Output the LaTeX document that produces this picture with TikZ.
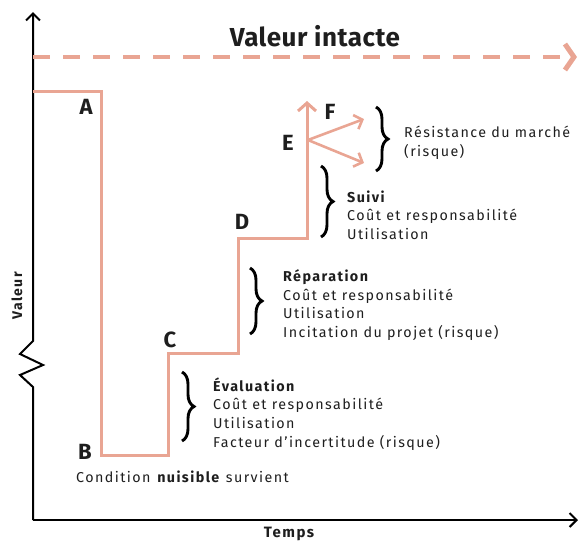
\documentclass[tikz,border=0pt]{standalone}
\usepackage{fontspec}
\setmainfont[LetterSpace=10]{Fira Sans}
\newfontfamily\titlefont[LetterSpace=2]{Fira Sans}
\usetikzlibrary{arrows.meta,decorations.pathreplacing}
\definecolor{salmon}{HTML}{E9A593}
\definecolor{ink}{HTML}{1E1E1E}
\tikzset{
  axisline/.style={line width=2pt,draw=black},
  stepline/.style={line width=3pt,draw=salmon,line join=miter},
  dashline/.style={line width=4pt,draw=salmon,dash pattern=on 17pt off 13pt},
  bracestyle/.style={decorate,decoration={brace,amplitude=12pt},line width=2.9pt,draw=black},
  letter/.style={font=\fontsize{22}{22}\selectfont\bfseries,text=ink,inner sep=0pt},
  info/.style={font=\fontsize{14.3}{18.7}\selectfont,text=ink,align=left,anchor=west,inner sep=0pt},
}
\begin{document}
\begin{tikzpicture}[x=1pt,y=-1pt]
\useasboundingbox (0,0) rectangle (579,542);
% axes
\coordinate (o) at (33,520);
\coordinate (ytop) at (33,12);
\coordinate (xend) at (578,520);
\coordinate (z0) at (33,387);
\coordinate (z1) at (20,375);
\coordinate (z2) at (43,365);
\coordinate (z3) at (20,354);
\coordinate (z4) at (33,341);
\draw[axisline,-{Straight Barb[length=7pt,width=14pt,line width=2pt]}] (o) -- (z0) -- (z1) -- (z2) -- (z3) -- (z4) -- (ytop);
\draw[axisline,-{Straight Barb[length=7pt,width=14pt,line width=2pt]}] (o) -- (xend);
% dashed intact value line
\coordinate (d0) at (33,57);
\coordinate (d1) at (577,57);
\draw[dashline,-{Straight Barb[length=9pt,width=26pt,line width=5pt]}] (d0) -- (d1);
% step line
\coordinate (s0) at (33,91);
\coordinate (pA) at (101,91);
\coordinate (pB) at (101,455);
\coordinate (pB2) at (168,455);
\coordinate (pC) at (168,353);
\coordinate (pD0) at (238,353);
\coordinate (pD) at (238,238);
\coordinate (pE0) at (307,238);
\coordinate (pEtop) at (307,101);
\coordinate (pE) at (308,140);
\coordinate (f1) at (364,119);
\coordinate (f2) at (364,163);
\draw[stepline,-{Straight Barb[length=8pt,width=18pt,line width=3pt]}] (s0) -- (pA) -- (pB) -- (pB2) -- (pC) -- (pD0) -- (pD) -- (pE0) -- (pEtop);
\draw[stepline,line width=2.6pt,-{Straight Barb[length=7pt,width=15pt,line width=2.6pt]}] (pE) -- (f1);
\draw[stepline,line width=2.6pt,-{Straight Barb[length=7pt,width=15pt,line width=2.6pt]}] (pE) -- (f2);
% labels
\node[letter] (lA) at (86,107) {A};
\node[letter] (lB) at (85,452) {B};
\node[letter] (lC) at (170,340) {C};
\node[letter] (lD) at (242,222) {D};
\node[letter] (lE) at (288,143) {E};
\node[letter] (lF) at (330,112) {F};
% title and axis names
\node[font=\titlefont\fontsize{26}{26}\selectfont\bfseries,text=ink] (title) at (315,36) {Valeur intacte};
\node[font=\fontsize{15}{15}\selectfont\bfseries,text=ink] (temps) at (289,534) {Temps};
\node[font=\fontsize{14}{14}\selectfont\bfseries,text=ink,rotate=90] (valeur) at (17,296) {Valeur};
% braces
\coordinate (b1a) at (182,372); \coordinate (b1b) at (182,441);
\coordinate (b2a) at (250,268); \coordinate (b2b) at (250,334);
\coordinate (b3a) at (321,166); \coordinate (b3b) at (321,237);
\coordinate (b4a) at (376,107); \coordinate (b4b) at (376,171);
\draw[bracestyle] (b1a) -- (b1b);
\draw[bracestyle] (b2a) -- (b2b);
\draw[bracestyle] (b3a) -- (b3b);
\draw[bracestyle] (b4a) -- (b4b);
% texts
\node[info] (tEval) at (213,414) {\textbf{Évaluation}\\Coût et responsabilité\\Utilisation\\Facteur d’incertitude (risque)};
\node[info] (tRep) at (283,305) {\textbf{Réparation}\\Coût et responsabilité\\Utilisation\\Incitation du projet (risque)};
\node[info] (tSuivi) at (347,215) {\textbf{Suivi}\\Coût et responsabilité\\Utilisation};
\node[info] (tRes) at (404,143) {Résistance du marché\\(risque)};
\node[info] (tCond) at (76,477) {Condition \textbf{nuisible} survient};
\end{tikzpicture}
\end{document}
